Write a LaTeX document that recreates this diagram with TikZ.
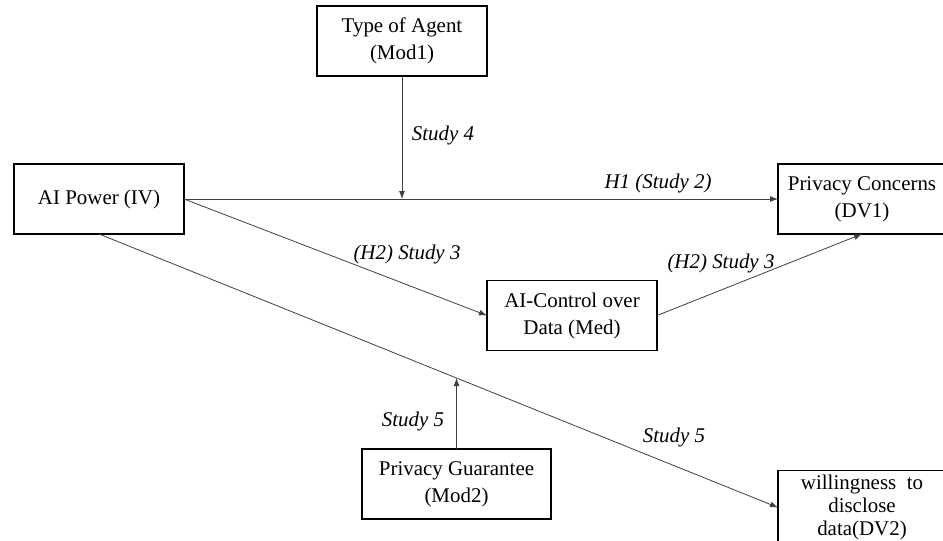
\documentclass[tikz,border=0pt]{standalone}
\usepackage{fontspec}
\setmainfont{Liberation Serif}
\usetikzlibrary{arrows.meta}

\begin{document}
\begin{tikzpicture}[x=0.75pt, y=-0.75pt,
    >={Latex[length=6pt, width=4.5pt]},
    box/.style={shape=rectangle, draw=black, fill=white, line width=0.8pt,
      inner sep=0pt, outer sep=0pt, align=center,
      minimum width=127.5pt, minimum height=52.5pt,
      font=\fontsize{15.7}{20.2}\selectfont},
    lbl/.style={font=\fontsize{15.7}{19.5}\selectfont\itshape},
    arc/.style={->, line width=0.6pt, draw=black!75}]
          \useasboundingbox (0,0) rectangle (943,540);

          % nodes
          \node[box] at (402,41)
          (mod1) {Type of Agent\\(Mod1)};
          \node[box] at (99,199)
          (iv) {AI Power (IV)};
          \node[box, minimum width=126pt] at (862,199)
          (dv1) {Privacy Concerns\\(DV1)};
          \node[box, minimum height=53pt] at (572,315.5)
          (med) {AI-Control over\\Data (Med)};
          \node[box, minimum width=141.75pt] at (456.5,484)
          (mod2) {Privacy Guarantee\\(Mod2)};
          \node[box, minimum width=126pt, minimum height=55pt,
          font=\fontsize{15.7}{17.4}\selectfont] at (862,507.5)
          (dv2) {willingness\ \ to\\disclose\\data(DV2)};

          % meeting points of the moderators
          \coordinate (agenthit) at (mod1.south |- iv.east);
          \coordinate (guarhit) at (intersection of iv.south--dv2.west and mod2.north--mod2.south);

          % arcs
          \draw[arc] (iv.east) -- (dv1.west);
          \draw[arc] (iv.east) -- (med.west);
          \draw[arc] (med.east) -- (dv1.south);
          \draw[arc] (iv.south) -- (dv2.west);
          \draw[arc] (mod1.south) -- (agenthit);
          \draw[arc] (mod2.north) -- (guarhit);

          % labels
          \node[lbl] at (443,135) (l4) {Study 4};
          \node[lbl] at (658,183) (l2) {H1 (Study 2)};
          \node[lbl] at (407,254) (l3a) {(H2) Study 3};
          \node[lbl] at (721,263) (l3b) {(H2) Study 3};
          \node[lbl] at (413,421) (l5a) {Study 5};
          \node[lbl] at (674,437) (l5b) {Study 5};
        \end{tikzpicture}
\end{document}
